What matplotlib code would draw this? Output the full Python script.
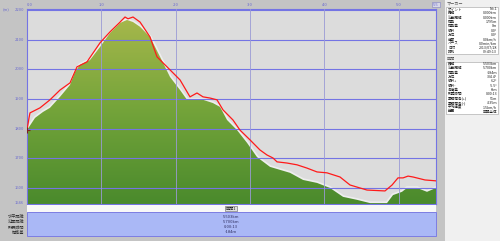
### elevation profile (GPS log vs terrain) in the style of a map viewer window
import numpy as np
import matplotlib
matplotlib.use('Agg')
import matplotlib.pyplot as plt
from matplotlib.colors import LinearSegmentedColormap
from matplotlib.patches import Rectangle

plt.rcParams['font.family'] = ['Noto Sans CJK JP', 'DejaVu Sans']

# terrain profile (km, m)
terrain_km = [0.0, 0.108, 0.215, 0.309, 0.444, 0.578, 0.646, 0.713, 0.847, 0.982, 1.116, 1.251,
              1.345, 1.426, 1.520, 1.654, 1.789, 1.923, 2.058, 2.152, 2.232, 2.367, 2.501, 2.596,
              2.690, 2.824, 2.959, 3.093, 3.268, 3.402, 3.537, 3.712, 3.900, 4.075, 4.250, 4.438,
              4.613, 4.841, 4.922, 5.043, 5.110, 5.245, 5.379, 5.500]
terrain_m = [1795, 1836, 1856, 1870, 1907, 1947, 1991, 2015, 2031, 2075, 2122, 2156,
             2166, 2159, 2143, 2109, 2042, 1974, 1930, 1897, 1897, 1897, 1886, 1873,
             1829, 1795, 1752, 1704, 1671, 1661, 1651, 1627, 1617, 1600, 1570, 1560,
             1549, 1549, 1576, 1587, 1600, 1600, 1587, 1600]

# gps track elevation (km, m)
track_km = [0.0, 0.027, 0.040, 0.175, 0.309, 0.444, 0.578, 0.672, 0.807, 0.982, 1.116, 1.251,
            1.318, 1.358, 1.426, 1.520, 1.654, 1.748, 1.883, 1.923, 2.058, 2.192, 2.286, 2.367,
            2.461, 2.555, 2.636, 2.770, 2.864, 2.999, 3.133, 3.228, 3.308, 3.362, 3.497, 3.631,
            3.765, 3.900, 4.034, 4.209, 4.344, 4.478, 4.572, 4.814, 4.909, 4.989, 5.057, 5.124,
            5.191, 5.352, 5.500]
track_m = [1795, 1836, 1853, 1870, 1897, 1930, 1954, 2008, 2025, 2089, 2126, 2159,
           2176, 2170, 2176, 2159, 2109, 2042, 2008, 1998, 1964, 1907, 1920, 1907,
           1903, 1897, 1863, 1829, 1795, 1762, 1728, 1711, 1701, 1688, 1684, 1678,
           1667, 1654, 1651, 1637, 1610, 1600, 1593, 1590, 1610, 1634, 1634, 1640,
           1637, 1627, 1624]

x_ticks = [0, 1, 2, 3, 4, 5]
x_labels = ['0.0', '1.0', '2.0', '3.0', '4.0', '5.0']
y_ticks = [1600, 1700, 1800, 1900, 2000, 2100, 2200]

summary_names = ['水平距離', '沿面距離', '所要時間', '標高差']
summary_values = ['5.503km', '5.700km', '0:00:13', '-184m']

marker_rows = [('ポイント', 'No.1'), ('距離', '0.000km'), ('沿面距離', '0.000km'),
               ('標高', '1795m'), ('標高差', '0m'), ('傾斜', '0.0°'), ('方位', '0.0°'),
               ('速度', '0.0km/h'), ('ペース', '0.0min/km'), ('日付', '2013/07/28'),
               ('時刻', '09:49:13')]
section_rows = [('距離', '5.503km'), ('沿面距離', '5.700km'), ('標高差', '-184m'),
                ('方位', '304.4°'), ('傾斜+', '6.2°'), ('傾斜-', '-5.5°'),
                ('高低差', '-8m'), ('所要時間', '0:00:13'), ('累積標高(+)', '51m'),
                ('累積標高(-)', '-235m'), ('平均速度', '1.5km/h'), ('範囲', '区間全体')]

W, H = 500, 241
fig = plt.figure(figsize=(W / 100, H / 100), dpi=100)
fig.patch.set_facecolor('#c4c4c4')

def fx(px):
    return px / W

def fy(py):
    return 1 - py / H

blue_txt = '#6a6ad0'

# right info panel
fig.patches.append(Rectangle((fx(445), 0), fx(55), 1, transform=fig.transFigure,
                             facecolor='#f0f0f0', edgecolor='none', zorder=0))

# main plot
ax = fig.add_axes([fx(27), fy(204), fx(409), (204 - 9) / H])
ax.set_facecolor('#dcdcdc')
ax.set_xlim(0, 5.5)
ax.set_ylim(1546, 2203)

grad = np.linspace(0, 1, 256).reshape(-1, 1)
cmap = LinearSegmentedColormap.from_list('terrain_g', ['#4a8a2c', '#74a43a', '#a8b84c'])
ax.plot(terrain_km, terrain_m, color='#eeeeee', lw=2.5, zorder=1)
poly = ax.fill_between(terrain_km, terrain_m, 1546, color='none', zorder=2)
img = ax.imshow(grad, extent=[0, 5.5, 1546, 2180], origin='lower', aspect='auto',
                cmap=cmap, zorder=2)
img.set_clip_path(poly.get_paths()[0], transform=ax.transData)
ax.set_ylim(1546, 2203)

for yv in y_ticks:
    ax.axhline(yv, color='#7474e4', lw=0.8, zorder=3)
for xv in x_ticks[1:]:
    ax.axvline(xv, color='#9a9ad6', lw=0.6, zorder=3)

ax.plot(track_km, track_m, color='#ff1a1a', lw=0.9, zorder=4)
ax.plot([0], [1795], marker='+', color='#802020', ms=4, mew=0.8, zorder=5)

for s in ax.spines.values():
    s.set_color('#7474e4')
    s.set_linewidth(0.8)
ax.set_xticks([])
ax.set_yticks([])

# top distance labels
for xv, lab in zip(x_ticks, x_labels):
    px = 27 + xv * 409 / 5.5 + (3 if xv == 0 else 0)
    fig.text(fx(px), fy(4.5), lab, fontsize=3, color=blue_txt, ha='center', va='center')
fig.text(fx(436), fy(4.5), '5.5', fontsize=3, color=blue_txt, ha='center', va='center',
         bbox=dict(boxstyle='square,pad=0.2', fc='#d8d8e8', ec='#8080c0', lw=0.4))

# left elevation labels
fig.text(fx(3), fy(10), '(m)', fontsize=3, color=blue_txt, ha='left', va='center')
for yv in y_ticks:
    py = 188 - (yv - 1600) * 29.67 / 100
    fig.text(fx(24), fy(py), str(yv), fontsize=3, color=blue_txt, ha='right', va='center')
fig.text(fx(24), fy(203), '1546', fontsize=3, color=blue_txt, ha='right', va='center')

# bottom section strip
fig.patches.append(Rectangle((fx(27), fy(212)), fx(409), 7 / H, transform=fig.transFigure,
                             facecolor='#f8f8f8', edgecolor='none'))
fig.patches.append(Rectangle((fx(27), fy(236)), fx(409), 24 / H, transform=fig.transFigure,
                             facecolor='#aab8f6', edgecolor='#7474e4', lw=0.6))
fig.text(fx(231), fy(208.5), '区間1', fontsize=3, color='#202020', ha='center', va='center',
         bbox=dict(boxstyle='square,pad=0.15', fc='#e0e0e0', ec='#606060', lw=0.4))
for i, (nm, val) in enumerate(zip(summary_names, summary_values)):
    py = 216.5 + i * 5.3
    fig.text(fx(24), fy(py), nm, fontsize=3, color='#303030', ha='right', va='center')
    fig.text(fx(231), fy(py), val, fontsize=3, color='#303060', ha='center', va='center')

# info tables
def draw_table(title, rows, top):
    fig.text(fx(447), fy(top - 3), title, fontsize=3, color='#505050', ha='left', va='center')
    rh = 4.3
    fig.patches.append(Rectangle((fx(446), fy(top + rh * len(rows))), fx(52), rh * len(rows) / H,
                                 transform=fig.transFigure, facecolor='white',
                                 edgecolor='#a0a0a0', lw=0.4))
    for i, (nm, val) in enumerate(rows):
        py = top + rh * (i + 0.5)
        fig.text(fx(448), fy(py), nm, fontsize=2.6, color='#202020', ha='left', va='center')
        fig.text(fx(497), fy(py), val, fontsize=2.6, color='#202020', ha='right', va='center')

draw_table('マーカー', marker_rows, 7)
draw_table('区間', section_rows, 62)

fig.savefig('out.png', dpi=100, facecolor=fig.get_facecolor())
